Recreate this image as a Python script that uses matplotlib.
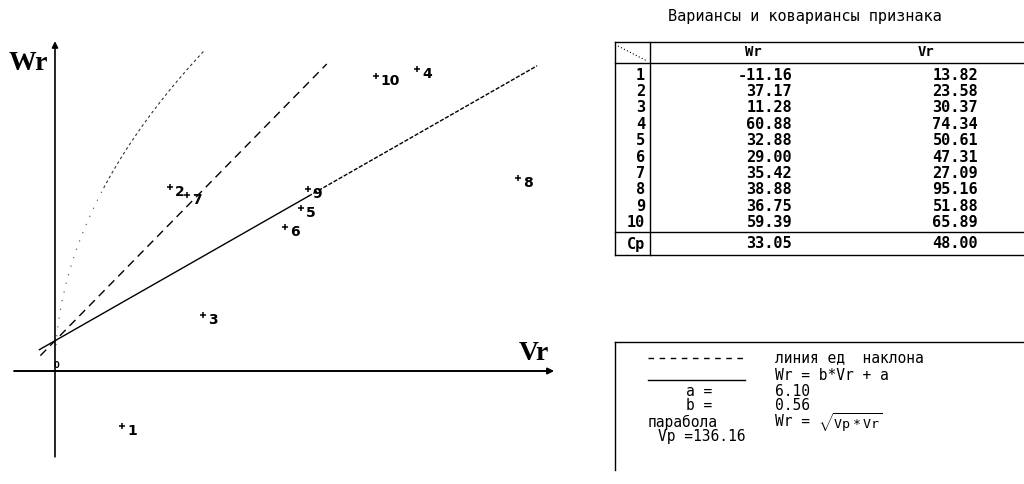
import numpy as np
import matplotlib.pyplot as plt

plt.rcParams['font.family'] = ['DejaVu Sans']
plt.rcParams['mathtext.fontset'] = 'custom'
plt.rcParams['mathtext.rm'] = 'DejaVu Sans Mono'

# data
point_ids = ['1', '2', '3', '4', '5', '6', '7', '8', '9', '10']
vr = [13.82, 23.58, 30.37, 74.34, 50.61, 47.31, 27.09, 95.16, 51.88, 65.89]
wr = [-11.16, 37.17, 11.28, 60.88, 32.88, 29.00, 35.42, 38.88, 36.75, 59.39]
mean_label = 'Cp'
mean_wr = 33.05
mean_vr = 48.00
a = 6.10
b = 0.56
vp = 136.16

title = 'Вариансы и ковариансы признака'
col_names = ['Wr', 'Vr']
legend_unit = 'линия ед  наклона'
legend_reg = 'Wr = b*Vr + a'
legend_par = 'парабола'

MONO = 'DejaVu Sans Mono'
SERIF = 'Liberation Serif'

fig = plt.figure(figsize=(10.24, 4.84), dpi=100)

# ---- scatter panel (scale ~4.87 px per Vr unit, ~4.96 px per Wr unit)
ax = fig.add_axes([0, 0, 580 / 1024, 1])
ax.set_xlim(-11.29, 107.8)
ax.set_ylim(-22.78, 74.8)
ax.axis('off')

# axes with arrows
ax.annotate('', xy=(102.5, 0), xytext=(-8.4, 0),
            arrowprops=dict(arrowstyle='-|>', color='black', lw=1.4,
                            mutation_scale=9, shrinkA=0, shrinkB=0))
ax.annotate('', xy=(0, 66.5), xytext=(0, -17.3),
            arrowprops=dict(arrowstyle='-|>', color='black', lw=1.2,
                            mutation_scale=9, shrinkA=0, shrinkB=0))

# regression line Wr = b*Vr + a
x1 = np.linspace(-3.2, 52, 50)
ax.plot(x1, b * x1 + a, color='black', lw=1.0)
x2 = np.linspace(52, 99, 50)
ax.plot(x2, b * x2 + a, color='black', lw=1.0, linestyle=(0, (3, 1.2)))

# unit slope line
xu = np.linspace(-3, 55.8, 50)
ax.plot(xu, xu + a, color='black', lw=1.0, linestyle=(0, (6, 4)))

# parabola Wr = sqrt(Vp*Vr)
xp1 = np.linspace(0.2, 10, 80)
ax.plot(xp1, np.sqrt(vp * xp1), color='#444444', lw=0.8, linestyle=(0, (1, 7)))
xp2 = np.linspace(10, 30.5, 80)
ax.plot(xp2, np.sqrt(vp * xp2), color='#333333', lw=0.8, linestyle=(0, (2.5, 2.5)))

# points
ax.plot(vr, wr, linestyle='none', marker='+', markersize=4, mew=1.1, color='black')
for pid, v, w in zip(point_ids, vr, wr):
    ax.annotate(pid, (v, w), xytext=(3.5, -3.5), textcoords='offset points',
                ha='left', va='center', fontsize=10, fontweight='bold')

# ---- overlay in pixel coordinates for labels, table and legend
ov = fig.add_axes([0, 0, 1, 1])
ov.set_xlim(0, 1024)
ov.set_ylim(484, 0)
ov.axis('off')
ov.patch.set_alpha(0)

ov.text(9, 63, 'Wr', family=SERIF, fontsize=20, fontweight='bold', ha='left', va='center')
ov.text(519, 353, 'Vr', family=SERIF, fontsize=20, fontweight='bold', ha='left', va='center')
ov.text(57, 370, '0', fontsize=6, fontweight='bold', ha='center', va='bottom')

# table
ov.text(805, 17, title, family=MONO, fontsize=11, ha='center', va='center')
lw_t = 1.0
for yy in [42, 63, 232, 255]:
    ov.plot([615, 1024], [yy, yy], color='black', lw=lw_t)
for xx in [615, 650]:
    ov.plot([xx, xx], [42, 255], color='black', lw=lw_t)
ov.plot([618, 647], [46, 61], color='black', lw=0.8, linestyle=(0, (1, 2)))

ov.text(753, 52, col_names[0], family=MONO, fontsize=10, fontweight='bold', ha='center', va='center')
ov.text(926, 52, col_names[1], family=MONO, fontsize=10, fontweight='bold', ha='center', va='center')

row_y = 75
for pid, v, w in zip(point_ids, vr, wr):
    ov.text(645, row_y, pid, family=MONO, fontsize=11, fontweight='bold', ha='right', va='center')
    ov.text(792, row_y, '%.2f' % w, family=MONO, fontsize=11, fontweight='bold', ha='right', va='center')
    ov.text(978, row_y, '%.2f' % v, family=MONO, fontsize=11, fontweight='bold', ha='right', va='center')
    row_y += 16.4
ov.text(645, 244, mean_label, family=MONO, fontsize=11, fontweight='bold', ha='right', va='center')
ov.text(792, 244, '%.2f' % mean_wr, family=MONO, fontsize=11, fontweight='bold', ha='right', va='center')
ov.text(978, 244, '%.2f' % mean_vr, family=MONO, fontsize=11, fontweight='bold', ha='right', va='center')

# legend box
ov.plot([615, 1024], [342, 342], color='black', lw=lw_t)
ov.plot([615, 615], [342, 470], color='black', lw=lw_t)

fs = 10.5
ov.plot([648, 745], [358, 358], color='black', lw=1.0, linestyle=(0, (4, 4)))
ov.text(775, 358, legend_unit, family=MONO, fontsize=fs, ha='left', va='center')
ov.plot([648, 745], [380, 380], color='black', lw=1.0)
ov.text(775, 376, legend_reg, family=MONO, fontsize=fs, ha='left', va='center')
ov.text(712, 391, 'a =', family=MONO, fontsize=fs, ha='right', va='center')
ov.text(775, 391, '%.2f' % a, family=MONO, fontsize=fs, ha='left', va='center')
ov.text(712, 405, 'b =', family=MONO, fontsize=fs, ha='right', va='center')
ov.text(775, 405, '%.2f' % b, family=MONO, fontsize=fs, ha='left', va='center')
ov.text(648, 422, legend_par, family=MONO, fontsize=fs, ha='left', va='center')
ov.text(775, 422, 'Wr =', family=MONO, fontsize=fs, ha='left', va='center')
ov.text(818, 423, r'$\sqrt{\mathrm{Vp*Vr}}$', family=MONO, fontsize=9.5, ha='left', va='center')
ov.text(658, 437, 'Vp =%.2f' % vp, family=MONO, fontsize=fs, ha='left', va='center')

fig.savefig('out.png', dpi=100)
